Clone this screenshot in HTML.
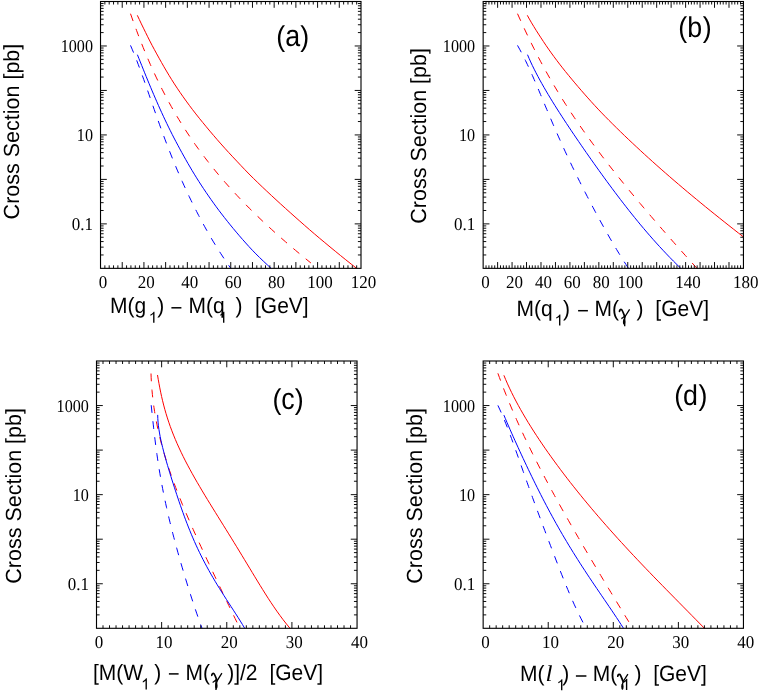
<!DOCTYPE html>
<html><head><meta charset="utf-8"><title>Cross sections</title>
<style>html,body{margin:0;padding:0;background:#fff}svg{display:block;will-change:transform}text{text-rendering:geometricPrecision}.t{font-family:"Liberation Serif",serif;font-size:17px;fill:#000}.s{font-family:"Liberation Sans",sans-serif;fill:#000}.g{font-family:"Liberation Serif",serif;fill:#000}</style></head><body>
<svg width="761" height="692" viewBox="0 0 761 692">
<rect width="761" height="692" fill="#fff"/>
<path d="M137.3 15.3L139.35 19.59L141.39 23.88L143.47 28.17L145.58 32.46L147.7 36.74L149.85 41.03L152.09 45.32L154.4 49.61L156.73 53.9L159.1 58.19L161.5 62.48L163.95 66.77L166.46 71.06L169.02 75.35L171.66 79.63L174.39 83.92L177.21 88.21L180.13 92.5L183.12 96.79L186.2 101.08L189.34 105.37L192.57 109.66L195.89 113.95L199.29 118.24L202.77 122.52L206.31 126.81L209.88 131.1L213.52 135.39L217.22 139.68L221 143.97L224.84 148.26L228.75 152.55L232.73 156.84L236.77 161.13L240.81 165.41L244.88 169.7L249.03 173.99L253.33 178.28L257.75 182.57L262.24 186.86L266.77 191.15L271.36 195.44L276 199.73L280.68 204.02L285.41 208.3L290.18 212.59L294.99 216.88L299.83 221.17L304.71 225.46L309.63 229.75L314.63 234.04L319.7 238.33L324.83 242.62L330 246.91L335.22 251.19L340.46 255.48L345.77 259.77L351.16 264.06L356.6 268.35" stroke="#ff0000" stroke-width="1.0" fill="none"/>
<path d="M130.5 13.7L131.99 17.93L133.5 22.15L135.04 26.38L136.61 30.6L138.2 34.83L139.83 39.05L141.49 43.28L143.18 47.5L144.91 51.73L146.67 55.95L148.48 60.18L150.32 64.41L152.21 68.63L154.13 72.86L156.11 77.08L158.13 81.31L160.2 85.53L162.33 89.76L164.5 93.98L166.73 98.21L169.02 102.43L171.36 106.66L173.77 110.88L176.24 115.11L178.77 119.34L181.37 123.56L184.03 127.79L186.76 132.01L189.57 136.24L192.44 140.46L195.39 144.69L198.42 148.91L201.52 153.14L204.69 157.36L207.95 161.59L211.28 165.82L214.7 170.04L218.2 174.27L221.78 178.49L225.44 182.72L229.19 186.94L233.02 191.17L236.94 195.39L240.94 199.62L245.03 203.84L249.2 208.07L253.46 212.29L257.8 216.52L262.22 220.75L266.73 224.97L271.33 229.2L276 233.42L280.75 237.65L285.59 241.87L290.5 246.1L295.49 250.32L300.56 254.55L305.69 258.77L310.9 263" stroke="#ff0000" stroke-width="1.0" fill="none" stroke-dasharray="7.8 8.3"/>
<path d="M130.5 45.4L132.13 49.18L133.7 52.96L135.23 56.74L136.72 60.52L138.17 64.29L139.59 68.07L140.99 71.85L142.36 75.63L143.71 79.41L145.05 83.19L146.38 86.97L147.69 90.75L149.01 94.52L150.31 98.3L151.62 102.08L152.94 105.86L154.25 109.64L155.58 113.42L156.91 117.2L158.25 120.98L159.61 124.76L160.97 128.53L162.36 132.31L163.76 136.09L165.18 139.87L166.61 143.65L168.07 147.43L169.55 151.21L171.05 154.99L172.57 158.76L174.11 162.54L175.68 166.32L177.28 170.1L178.9 173.88L180.54 177.66L182.22 181.44L183.92 185.22L185.65 188.99L187.41 192.77L189.2 196.55L191.02 200.33L192.88 204.11L194.77 207.89L196.69 211.67L198.65 215.45L200.64 219.23L202.68 223L204.75 226.78L206.87 230.56L209.03 234.34L211.23 238.12L213.48 241.9L215.79 245.68L218.14 249.46L220.55 253.23L223.02 257.01L225.55 260.79L228.14 264.57L230.8 268.35" stroke="#0000ff" stroke-width="1.0" fill="none" stroke-dasharray="7.8 8.3"/>
<path d="M137.4 54.7L138.85 58.32L140.3 61.94L141.75 65.56L143.21 69.18L144.67 72.81L146.14 76.43L147.63 80.05L149.12 83.67L150.63 87.29L152.15 90.91L153.69 94.53L155.25 98.15L156.83 101.78L158.43 105.4L160.05 109.02L161.7 112.64L163.37 116.26L165.07 119.88L166.8 123.5L168.55 127.12L170.35 130.74L172.17 134.37L174.03 137.99L175.93 141.61L177.86 145.23L179.81 148.85L181.78 152.47L183.79 156.09L185.82 159.71L187.89 163.34L190 166.96L192.14 170.58L194.33 174.2L196.57 177.82L198.85 181.44L201.18 185.06L203.57 188.68L206.01 192.31L208.5 195.93L211.02 199.55L213.6 203.17L216.23 206.79L218.92 210.41L221.68 214.03L224.49 217.65L227.36 221.27L230.28 224.9L233.25 228.52L236.28 232.14L239.37 235.76L242.51 239.38L245.72 243L248.99 246.62L252.36 250.24L255.89 253.87L259.56 257.49L263.33 261.11L267.19 264.73L271.1 268.35" stroke="#0000ff" stroke-width="1.0" fill="none"/>
<path d="M104.86 268.35v-3M104.86 1.5v3M109.2 268.35v-3M109.2 1.5v3M113.54 268.35v-3M113.54 1.5v3M117.89 268.35v-3M117.89 1.5v3M122.23 268.35v-6.3M122.23 1.5v6.3M126.57 268.35v-3M126.57 1.5v3M130.91 268.35v-3M130.91 1.5v3M135.25 268.35v-3M135.25 1.5v3M139.59 268.35v-3M139.59 1.5v3M143.93 268.35v-6.3M143.93 1.5v6.3M148.27 268.35v-3M148.27 1.5v3M152.62 268.35v-3M152.62 1.5v3M156.96 268.35v-3M156.96 1.5v3M161.3 268.35v-3M161.3 1.5v3M165.64 268.35v-6.3M165.64 1.5v6.3M169.98 268.35v-3M169.98 1.5v3M174.32 268.35v-3M174.32 1.5v3M178.66 268.35v-3M178.66 1.5v3M183.01 268.35v-3M183.01 1.5v3M187.35 268.35v-6.3M187.35 1.5v6.3M191.69 268.35v-3M191.69 1.5v3M196.03 268.35v-3M196.03 1.5v3M200.37 268.35v-3M200.37 1.5v3M204.71 268.35v-3M204.71 1.5v3M209.05 268.35v-6.3M209.05 1.5v6.3M213.39 268.35v-3M213.39 1.5v3M217.74 268.35v-3M217.74 1.5v3M222.08 268.35v-3M222.08 1.5v3M226.42 268.35v-3M226.42 1.5v3M230.76 268.35v-6.3M230.76 1.5v6.3M235.1 268.35v-3M235.1 1.5v3M239.44 268.35v-3M239.44 1.5v3M243.78 268.35v-3M243.78 1.5v3M248.13 268.35v-3M248.13 1.5v3M252.47 268.35v-6.3M252.47 1.5v6.3M256.81 268.35v-3M256.81 1.5v3M261.15 268.35v-3M261.15 1.5v3M265.49 268.35v-3M265.49 1.5v3M269.83 268.35v-3M269.83 1.5v3M274.17 268.35v-6.3M274.17 1.5v6.3M278.51 268.35v-3M278.51 1.5v3M282.86 268.35v-3M282.86 1.5v3M287.2 268.35v-3M287.2 1.5v3M291.54 268.35v-3M291.54 1.5v3M295.88 268.35v-6.3M295.88 1.5v6.3M300.22 268.35v-3M300.22 1.5v3M304.56 268.35v-3M304.56 1.5v3M308.9 268.35v-3M308.9 1.5v3M313.25 268.35v-3M313.25 1.5v3M317.59 268.35v-6.3M317.59 1.5v6.3M321.93 268.35v-3M321.93 1.5v3M326.27 268.35v-3M326.27 1.5v3M330.61 268.35v-3M330.61 1.5v3M334.95 268.35v-3M334.95 1.5v3M339.29 268.35v-6.3M339.29 1.5v6.3M343.63 268.35v-3M343.63 1.5v3M347.98 268.35v-3M347.98 1.5v3M352.32 268.35v-3M352.32 1.5v3M356.66 268.35v-3M356.66 1.5v3M100.52 254.96h3.1M361 254.96h-3.1M100.52 247.13h3.1M361 247.13h-3.1M100.52 241.57h3.1M361 241.57h-3.1M100.52 237.26h3.1M361 237.26h-3.1M100.52 233.74h3.1M361 233.74h-3.1M100.52 230.76h3.1M361 230.76h-3.1M100.52 228.19h3.1M361 228.19h-3.1M100.52 225.91h3.1M361 225.91h-3.1M100.52 223.88h6.3M361 223.88h-6.3M100.52 210.49h3.1M361 210.49h-3.1M100.52 202.66h3.1M361 202.66h-3.1M100.52 197.1h3.1M361 197.1h-3.1M100.52 192.79h3.1M361 192.79h-3.1M100.52 189.27h3.1M361 189.27h-3.1M100.52 186.29h3.1M361 186.29h-3.1M100.52 183.71h3.1M361 183.71h-3.1M100.52 181.44h3.1M361 181.44h-3.1M100.52 179.4h6.3M361 179.4h-6.3M100.52 166.01h3.1M361 166.01h-3.1M100.52 158.18h3.1M361 158.18h-3.1M100.52 152.62h3.1M361 152.62h-3.1M100.52 148.31h3.1M361 148.31h-3.1M100.52 144.79h3.1M361 144.79h-3.1M100.52 141.81h3.1M361 141.81h-3.1M100.52 139.24h3.1M361 139.24h-3.1M100.52 136.96h3.1M361 136.96h-3.1M100.52 134.93h6.3M361 134.93h-6.3M100.52 121.54h3.1M361 121.54h-3.1M100.52 113.71h3.1M361 113.71h-3.1M100.52 108.15h3.1M361 108.15h-3.1M100.52 103.84h3.1M361 103.84h-3.1M100.52 100.32h3.1M361 100.32h-3.1M100.52 97.34h3.1M361 97.34h-3.1M100.52 94.76h3.1M361 94.76h-3.1M100.52 92.49h3.1M361 92.49h-3.1M100.52 90.45h6.3M361 90.45h-6.3M100.52 77.06h3.1M361 77.06h-3.1M100.52 69.23h3.1M361 69.23h-3.1M100.52 63.67h3.1M361 63.67h-3.1M100.52 59.36h3.1M361 59.36h-3.1M100.52 55.84h3.1M361 55.84h-3.1M100.52 52.86h3.1M361 52.86h-3.1M100.52 50.29h3.1M361 50.29h-3.1M100.52 48.01h3.1M361 48.01h-3.1M100.52 45.98h6.3M361 45.98h-6.3M100.52 32.59h3.1M361 32.59h-3.1M100.52 24.76h3.1M361 24.76h-3.1M100.52 19.2h3.1M361 19.2h-3.1M100.52 14.89h3.1M361 14.89h-3.1M100.52 11.37h3.1M361 11.37h-3.1M100.52 8.39h3.1M361 8.39h-3.1M100.52 5.81h3.1M361 5.81h-3.1M100.52 3.54h3.1M361 3.54h-3.1" stroke="#000000" stroke-width="0.95" fill="none"/>
<rect x="100.52" y="1.5" width="260.48" height="266.85" fill="none" stroke="#000000" stroke-width="1.12"/>
<text transform="translate(102.92 287.95) scale(1 1.06)" class="t" text-anchor="middle">0</text>
<text transform="translate(146.33 287.95) scale(1 1.06)" class="t" text-anchor="middle">20</text>
<text transform="translate(189.75 287.95) scale(1 1.06)" class="t" text-anchor="middle">40</text>
<text transform="translate(233.16 287.95) scale(1 1.06)" class="t" text-anchor="middle">60</text>
<text transform="translate(276.57 287.95) scale(1 1.06)" class="t" text-anchor="middle">80</text>
<text transform="translate(319.99 287.95) scale(1 1.06)" class="t" text-anchor="middle">100</text>
<text transform="translate(363.4 287.95) scale(1 1.06)" class="t" text-anchor="middle">120</text>
<text transform="translate(93.02 230.28) scale(1 1.06)" class="t" text-anchor="end">0.1</text>
<text transform="translate(93.02 141.33) scale(0.95 1.06)" class="t" text-anchor="end">10</text>
<text transform="translate(93.02 52.38) scale(0.95 1.06)" class="t" text-anchor="end">1000</text>
<path d="M527.3 15.3L529.37 19.05L531.54 22.81L533.8 26.56L536.14 30.32L538.53 34.07L540.97 37.83L543.44 41.58L545.95 45.33L548.54 49.09L551.2 52.84L553.93 56.6L556.72 60.35L559.59 64.11L562.52 67.86L565.51 71.61L568.57 75.37L571.68 79.12L574.82 82.88L578.01 86.63L581.24 90.38L584.51 94.14L587.83 97.89L591.21 101.65L594.64 105.4L598.14 109.16L601.7 112.91L605.33 116.66L609.04 120.42L612.81 124.17L616.61 127.93L620.46 131.68L624.35 135.44L628.28 139.19L632.25 142.94L636.27 146.7L640.31 150.45L644.4 154.21L648.53 157.96L652.7 161.72L656.9 165.47L661.14 169.22L665.42 172.98L669.73 176.73L674.08 180.49L678.47 184.24L682.89 187.99L687.34 191.75L691.84 195.5L696.36 199.26L700.92 203.01L705.51 206.77L710.13 210.52L714.79 214.27L719.47 218.03L724.18 221.78L728.92 225.54L733.69 229.29L738.48 233.05L743.3 236.8" stroke="#ff0000" stroke-width="1.0" fill="none"/>
<path d="M517.5 13.7L519.45 18.02L521.42 22.33L523.4 26.65L525.42 30.96L527.46 35.28L529.53 39.6L531.64 43.91L533.79 48.23L535.97 52.54L538.19 56.86L540.46 61.18L542.76 65.49L545.12 69.81L547.52 74.13L549.96 78.44L552.46 82.76L555 87.07L557.59 91.39L560.23 95.71L562.92 100.02L565.65 104.34L568.44 108.65L571.27 112.97L574.15 117.29L577.08 121.6L580.05 125.92L583.07 130.23L586.13 134.55L589.24 138.87L592.38 143.18L595.57 147.5L598.8 151.82L602.07 156.13L605.38 160.45L608.72 164.76L612.1 169.08L615.51 173.4L618.96 177.71L622.44 182.03L625.94 186.34L629.48 190.66L633.04 194.98L636.63 199.29L640.25 203.61L643.89 207.92L647.55 212.24L651.24 216.56L654.94 220.87L658.67 225.19L662.42 229.51L666.19 233.82L669.97 238.14L673.78 242.45L677.6 246.77L681.44 251.09L685.3 255.4L689.18 259.72L693.08 264.03L697 268.35" stroke="#ff0000" stroke-width="1.0" fill="none" stroke-dasharray="7.8 8.3"/>
<path d="M517.5 45.4L519.61 49.18L521.63 52.96L523.58 56.74L525.46 60.52L527.28 64.29L529.05 68.07L530.77 71.85L532.46 75.63L534.12 79.41L535.75 83.19L537.36 86.97L538.96 90.75L540.55 94.52L542.13 98.3L543.71 102.08L545.28 105.86L546.87 109.64L548.46 113.42L550.05 117.2L551.66 120.98L553.28 124.76L554.92 128.53L556.57 132.31L558.23 136.09L559.92 139.87L561.62 143.65L563.33 147.43L565.07 151.21L566.82 154.99L568.6 158.76L570.39 162.54L572.2 166.32L574.03 170.1L575.87 173.88L577.73 177.66L579.61 181.44L581.51 185.22L583.43 188.99L585.36 192.77L587.3 196.55L589.27 200.33L591.25 204.11L593.25 207.89L595.26 211.67L597.29 215.45L599.34 219.23L601.42 223L603.51 226.78L605.62 230.56L607.76 234.34L609.92 238.12L612.12 241.9L614.34 245.68L616.59 249.46L618.89 253.23L621.22 257.01L623.6 260.79L626.02 264.57L628.5 268.35" stroke="#0000ff" stroke-width="1.0" fill="none" stroke-dasharray="7.8 8.3"/>
<path d="M527.5 54.7L529.05 58.32L530.68 61.94L532.39 65.56L534.16 69.18L536.01 72.81L537.91 76.43L539.87 80.05L541.88 83.67L543.94 87.29L546.05 90.91L548.19 94.53L550.38 98.15L552.6 101.78L554.85 105.4L557.14 109.02L559.45 112.64L561.79 116.26L564.15 119.88L566.53 123.5L568.93 127.12L571.35 130.74L573.79 134.37L576.25 137.99L578.72 141.61L581.21 145.23L583.71 148.85L586.23 152.47L588.76 156.09L591.31 159.71L593.87 163.34L596.45 166.96L599.04 170.58L601.65 174.2L604.28 177.82L606.92 181.44L609.59 185.06L612.27 188.68L614.98 192.31L617.71 195.93L620.47 199.55L623.26 203.17L626.07 206.79L628.92 210.41L631.79 214.03L634.71 217.65L637.66 221.27L640.65 224.9L643.69 228.52L646.77 232.14L649.91 235.76L653.09 239.38L656.33 243L659.62 246.62L662.98 250.24L666.4 253.87L669.89 257.49L673.45 261.11L677.09 264.73L680.8 268.35" stroke="#0000ff" stroke-width="1.0" fill="none"/>
<path d="M486.04 268.35v-3M486.04 1.5v3M488.93 268.35v-3M488.93 1.5v3M491.83 268.35v-3M491.83 1.5v3M494.72 268.35v-3M494.72 1.5v3M497.61 268.35v-6.3M497.61 1.5v6.3M500.5 268.35v-3M500.5 1.5v3M503.4 268.35v-3M503.4 1.5v3M506.29 268.35v-3M506.29 1.5v3M509.18 268.35v-3M509.18 1.5v3M512.07 268.35v-6.3M512.07 1.5v6.3M514.96 268.35v-3M514.96 1.5v3M517.86 268.35v-3M517.86 1.5v3M520.75 268.35v-3M520.75 1.5v3M523.64 268.35v-3M523.64 1.5v3M526.53 268.35v-6.3M526.53 1.5v6.3M529.43 268.35v-3M529.43 1.5v3M532.32 268.35v-3M532.32 1.5v3M535.21 268.35v-3M535.21 1.5v3M538.1 268.35v-3M538.1 1.5v3M540.99 268.35v-6.3M540.99 1.5v6.3M543.89 268.35v-3M543.89 1.5v3M546.78 268.35v-3M546.78 1.5v3M549.67 268.35v-3M549.67 1.5v3M552.56 268.35v-3M552.56 1.5v3M555.46 268.35v-6.3M555.46 1.5v6.3M558.35 268.35v-3M558.35 1.5v3M561.24 268.35v-3M561.24 1.5v3M564.13 268.35v-3M564.13 1.5v3M567.02 268.35v-3M567.02 1.5v3M569.92 268.35v-6.3M569.92 1.5v6.3M572.81 268.35v-3M572.81 1.5v3M575.7 268.35v-3M575.7 1.5v3M578.59 268.35v-3M578.59 1.5v3M581.49 268.35v-3M581.49 1.5v3M584.38 268.35v-6.3M584.38 1.5v6.3M587.27 268.35v-3M587.27 1.5v3M590.16 268.35v-3M590.16 1.5v3M593.05 268.35v-3M593.05 1.5v3M595.95 268.35v-3M595.95 1.5v3M598.84 268.35v-6.3M598.84 1.5v6.3M601.73 268.35v-3M601.73 1.5v3M604.62 268.35v-3M604.62 1.5v3M607.52 268.35v-3M607.52 1.5v3M610.41 268.35v-3M610.41 1.5v3M613.3 268.35v-6.3M613.3 1.5v6.3M616.19 268.35v-3M616.19 1.5v3M619.08 268.35v-3M619.08 1.5v3M621.98 268.35v-3M621.98 1.5v3M624.87 268.35v-3M624.87 1.5v3M627.76 268.35v-6.3M627.76 1.5v6.3M630.65 268.35v-3M630.65 1.5v3M633.55 268.35v-3M633.55 1.5v3M636.44 268.35v-3M636.44 1.5v3M639.33 268.35v-3M639.33 1.5v3M642.22 268.35v-6.3M642.22 1.5v6.3M645.11 268.35v-3M645.11 1.5v3M648.01 268.35v-3M648.01 1.5v3M650.9 268.35v-3M650.9 1.5v3M653.79 268.35v-3M653.79 1.5v3M656.68 268.35v-6.3M656.68 1.5v6.3M659.58 268.35v-3M659.58 1.5v3M662.47 268.35v-3M662.47 1.5v3M665.36 268.35v-3M665.36 1.5v3M668.25 268.35v-3M668.25 1.5v3M671.14 268.35v-6.3M671.14 1.5v6.3M674.04 268.35v-3M674.04 1.5v3M676.93 268.35v-3M676.93 1.5v3M679.82 268.35v-3M679.82 1.5v3M682.71 268.35v-3M682.71 1.5v3M685.61 268.35v-6.3M685.61 1.5v6.3M688.5 268.35v-3M688.5 1.5v3M691.39 268.35v-3M691.39 1.5v3M694.28 268.35v-3M694.28 1.5v3M697.17 268.35v-3M697.17 1.5v3M700.07 268.35v-6.3M700.07 1.5v6.3M702.96 268.35v-3M702.96 1.5v3M705.85 268.35v-3M705.85 1.5v3M708.74 268.35v-3M708.74 1.5v3M711.64 268.35v-3M711.64 1.5v3M714.53 268.35v-6.3M714.53 1.5v6.3M717.42 268.35v-3M717.42 1.5v3M720.31 268.35v-3M720.31 1.5v3M723.2 268.35v-3M723.2 1.5v3M726.1 268.35v-3M726.1 1.5v3M728.99 268.35v-6.3M728.99 1.5v6.3M731.88 268.35v-3M731.88 1.5v3M734.77 268.35v-3M734.77 1.5v3M737.67 268.35v-3M737.67 1.5v3M740.56 268.35v-3M740.56 1.5v3M483.15 254.96h3.1M743.45 254.96h-3.1M483.15 247.13h3.1M743.45 247.13h-3.1M483.15 241.57h3.1M743.45 241.57h-3.1M483.15 237.26h3.1M743.45 237.26h-3.1M483.15 233.74h3.1M743.45 233.74h-3.1M483.15 230.76h3.1M743.45 230.76h-3.1M483.15 228.19h3.1M743.45 228.19h-3.1M483.15 225.91h3.1M743.45 225.91h-3.1M483.15 223.88h6.3M743.45 223.88h-6.3M483.15 210.49h3.1M743.45 210.49h-3.1M483.15 202.66h3.1M743.45 202.66h-3.1M483.15 197.1h3.1M743.45 197.1h-3.1M483.15 192.79h3.1M743.45 192.79h-3.1M483.15 189.27h3.1M743.45 189.27h-3.1M483.15 186.29h3.1M743.45 186.29h-3.1M483.15 183.71h3.1M743.45 183.71h-3.1M483.15 181.44h3.1M743.45 181.44h-3.1M483.15 179.4h6.3M743.45 179.4h-6.3M483.15 166.01h3.1M743.45 166.01h-3.1M483.15 158.18h3.1M743.45 158.18h-3.1M483.15 152.62h3.1M743.45 152.62h-3.1M483.15 148.31h3.1M743.45 148.31h-3.1M483.15 144.79h3.1M743.45 144.79h-3.1M483.15 141.81h3.1M743.45 141.81h-3.1M483.15 139.24h3.1M743.45 139.24h-3.1M483.15 136.96h3.1M743.45 136.96h-3.1M483.15 134.93h6.3M743.45 134.93h-6.3M483.15 121.54h3.1M743.45 121.54h-3.1M483.15 113.71h3.1M743.45 113.71h-3.1M483.15 108.15h3.1M743.45 108.15h-3.1M483.15 103.84h3.1M743.45 103.84h-3.1M483.15 100.32h3.1M743.45 100.32h-3.1M483.15 97.34h3.1M743.45 97.34h-3.1M483.15 94.76h3.1M743.45 94.76h-3.1M483.15 92.49h3.1M743.45 92.49h-3.1M483.15 90.45h6.3M743.45 90.45h-6.3M483.15 77.06h3.1M743.45 77.06h-3.1M483.15 69.23h3.1M743.45 69.23h-3.1M483.15 63.67h3.1M743.45 63.67h-3.1M483.15 59.36h3.1M743.45 59.36h-3.1M483.15 55.84h3.1M743.45 55.84h-3.1M483.15 52.86h3.1M743.45 52.86h-3.1M483.15 50.29h3.1M743.45 50.29h-3.1M483.15 48.01h3.1M743.45 48.01h-3.1M483.15 45.98h6.3M743.45 45.98h-6.3M483.15 32.59h3.1M743.45 32.59h-3.1M483.15 24.76h3.1M743.45 24.76h-3.1M483.15 19.2h3.1M743.45 19.2h-3.1M483.15 14.89h3.1M743.45 14.89h-3.1M483.15 11.37h3.1M743.45 11.37h-3.1M483.15 8.39h3.1M743.45 8.39h-3.1M483.15 5.81h3.1M743.45 5.81h-3.1M483.15 3.54h3.1M743.45 3.54h-3.1" stroke="#000000" stroke-width="0.95" fill="none"/>
<rect x="483.15" y="1.5" width="260.3" height="266.85" fill="none" stroke="#000000" stroke-width="1.12"/>
<text transform="translate(485.55 287.95) scale(1 1.06)" class="t" text-anchor="middle">0</text>
<text transform="translate(514.47 287.95) scale(1 1.06)" class="t" text-anchor="middle">20</text>
<text transform="translate(543.39 287.95) scale(1 1.06)" class="t" text-anchor="middle">40</text>
<text transform="translate(572.32 287.95) scale(1 1.06)" class="t" text-anchor="middle">60</text>
<text transform="translate(601.24 287.95) scale(1 1.06)" class="t" text-anchor="middle">80</text>
<text transform="translate(630.16 287.95) scale(1 1.06)" class="t" text-anchor="middle">100</text>
<text transform="translate(688.01 287.95) scale(1 1.06)" class="t" text-anchor="middle">140</text>
<text transform="translate(745.85 287.95) scale(1 1.06)" class="t" text-anchor="middle">180</text>
<text transform="translate(475.15 230.28) scale(1 1.06)" class="t" text-anchor="end">0.1</text>
<text transform="translate(475.15 141.33) scale(0.95 1.06)" class="t" text-anchor="end">10</text>
<text transform="translate(475.15 52.38) scale(0.95 1.06)" class="t" text-anchor="end">1000</text>
<path d="M157.5 375L158.23 379.29L158.99 383.59L159.8 387.88L160.67 392.17L161.59 396.47L162.59 400.76L163.66 405.05L164.81 409.35L166.04 413.64L167.37 417.93L168.78 422.23L170.28 426.52L171.87 430.81L173.55 435.11L175.32 439.4L177.17 443.69L179.11 447.98L181.13 452.28L183.23 456.57L185.39 460.86L187.63 465.16L189.94 469.45L192.3 473.74L194.71 478.04L197.18 482.33L199.69 486.62L202.23 490.92L204.81 495.21L207.42 499.5L210.05 503.8L212.7 508.09L215.36 512.38L218.03 516.68L220.7 520.97L223.37 525.26L226.04 529.56L228.7 533.85L231.36 538.14L234 542.44L236.63 546.73L239.26 551.02L241.87 555.32L244.47 559.61L247.06 563.9L249.66 568.19L252.25 572.49L254.84 576.78L257.45 581.07L260.08 585.37L262.74 589.66L265.43 593.95L268.17 598.25L270.98 602.54L273.86 606.83L276.83 611.13L279.91 615.42L283.12 619.71L286.47 624.01L290 628.3" stroke="#ff0000" stroke-width="1.0" fill="none"/>
<path d="M151 373.5L151.17 377.72L151.39 381.94L151.67 386.17L152 390.39L152.4 394.61L152.85 398.83L153.37 403.05L153.95 407.28L154.58 411.5L155.28 415.72L156.04 419.94L156.86 424.16L157.74 428.39L158.67 432.61L159.67 436.83L160.72 441.05L161.83 445.27L162.99 449.5L164.21 453.72L165.48 457.94L166.8 462.16L168.17 466.38L169.59 470.61L171.05 474.83L172.55 479.05L174.1 483.27L175.68 487.49L177.31 491.72L178.97 495.94L180.66 500.16L182.39 504.38L184.14 508.61L185.92 512.83L187.73 517.05L189.57 521.27L191.42 525.49L193.29 529.72L195.19 533.94L197.1 538.16L199.02 542.38L200.96 546.6L202.91 550.83L204.87 555.05L206.84 559.27L208.82 563.49L210.8 567.71L212.79 571.94L214.79 576.16L216.79 580.38L218.8 584.6L220.81 588.82L222.83 593.05L224.85 597.27L226.87 601.49L228.9 605.71L230.94 609.93L232.98 614.16L235.04 618.38L237.1 622.6" stroke="#ff0000" stroke-width="1.0" fill="none" stroke-dasharray="7.8 8.3"/>
<path d="M151.2 405.2L151.6 408.98L152.01 412.76L152.41 416.54L152.81 420.33L153.22 424.11L153.64 427.89L154.07 431.67L154.5 435.45L154.96 439.23L155.42 443.01L155.91 446.79L156.41 450.58L156.93 454.36L157.47 458.14L158.03 461.92L158.62 465.7L159.22 469.48L159.85 473.26L160.5 477.05L161.17 480.83L161.87 484.61L162.58 488.39L163.32 492.17L164.09 495.95L164.87 499.73L165.68 503.52L166.51 507.3L167.36 511.08L168.23 514.86L169.12 518.64L170.03 522.42L170.96 526.2L171.91 529.98L172.87 533.77L173.86 537.55L174.86 541.33L175.87 545.11L176.91 548.89L177.95 552.67L179.02 556.45L180.09 560.24L181.18 564.02L182.29 567.8L183.41 571.58L184.54 575.36L185.69 579.14L186.85 582.92L188.02 586.71L189.21 590.49L190.41 594.27L191.62 598.05L192.86 601.83L194.1 605.61L195.37 609.39L196.65 613.17L197.96 616.96L199.28 620.74L200.63 624.52L202 628.3" stroke="#0000ff" stroke-width="1.0" fill="none" stroke-dasharray="7.8 8.3"/>
<path d="M157.7 414.9L157.8 418.52L158.05 422.13L158.42 425.75L158.91 429.37L159.5 432.98L160.17 436.6L160.92 440.22L161.74 443.84L162.61 447.45L163.54 451.07L164.5 454.69L165.5 458.3L166.53 461.92L167.59 465.54L168.67 469.15L169.77 472.77L170.88 476.39L172.01 480.01L173.16 483.62L174.32 487.24L175.5 490.86L176.69 494.47L177.9 498.09L179.12 501.71L180.37 505.32L181.64 508.94L182.93 512.56L184.24 516.17L185.59 519.79L186.97 523.41L188.38 527.03L189.83 530.64L191.32 534.26L192.86 537.88L194.43 541.49L196.06 545.11L197.73 548.73L199.45 552.34L201.23 555.96L203.06 559.58L204.94 563.19L206.87 566.81L208.86 570.43L210.9 574.05L212.99 577.66L215.12 581.28L217.31 584.9L219.53 588.51L221.79 592.13L224.08 595.75L226.39 599.36L228.73 602.98L231.07 606.6L233.41 610.22L235.74 613.83L238.05 617.45L240.32 621.07L242.54 624.68L244.7 628.3" stroke="#0000ff" stroke-width="1.0" fill="none"/>
<path d="M103.01 628.3v-3M103.01 361v3M109.53 628.3v-3M109.53 361v3M116.04 628.3v-3M116.04 361v3M122.56 628.3v-3M122.56 361v3M129.07 628.3v-3M129.07 361v3M135.58 628.3v-3M135.58 361v3M142.1 628.3v-3M142.1 361v3M148.61 628.3v-3M148.61 361v3M155.12 628.3v-3M155.12 361v3M161.64 628.3v-6.3M161.64 361v6.3M168.15 628.3v-3M168.15 361v3M174.67 628.3v-3M174.67 361v3M181.18 628.3v-3M181.18 361v3M187.69 628.3v-3M187.69 361v3M194.21 628.3v-3M194.21 361v3M200.72 628.3v-3M200.72 361v3M207.23 628.3v-3M207.23 361v3M213.75 628.3v-3M213.75 361v3M220.26 628.3v-3M220.26 361v3M226.78 628.3v-6.3M226.78 361v6.3M233.29 628.3v-3M233.29 361v3M239.8 628.3v-3M239.8 361v3M246.32 628.3v-3M246.32 361v3M252.83 628.3v-3M252.83 361v3M259.34 628.3v-3M259.34 361v3M265.86 628.3v-3M265.86 361v3M272.37 628.3v-3M272.37 361v3M278.88 628.3v-3M278.88 361v3M285.4 628.3v-3M285.4 361v3M291.91 628.3v-6.3M291.91 361v6.3M298.43 628.3v-3M298.43 361v3M304.94 628.3v-3M304.94 361v3M311.45 628.3v-3M311.45 361v3M317.97 628.3v-3M317.97 361v3M324.48 628.3v-3M324.48 361v3M331 628.3v-3M331 361v3M337.51 628.3v-3M337.51 361v3M344.02 628.3v-3M344.02 361v3M350.54 628.3v-3M350.54 361v3M96.5 614.89h3.1M357.05 614.89h-3.1M96.5 607.04h3.1M357.05 607.04h-3.1M96.5 601.48h3.1M357.05 601.48h-3.1M96.5 597.16h3.1M357.05 597.16h-3.1M96.5 593.63h3.1M357.05 593.63h-3.1M96.5 590.65h3.1M357.05 590.65h-3.1M96.5 588.07h3.1M357.05 588.07h-3.1M96.5 585.79h3.1M357.05 585.79h-3.1M96.5 583.75h6.3M357.05 583.75h-6.3M96.5 570.34h3.1M357.05 570.34h-3.1M96.5 562.49h3.1M357.05 562.49h-3.1M96.5 556.93h3.1M357.05 556.93h-3.1M96.5 552.61h3.1M357.05 552.61h-3.1M96.5 549.08h3.1M357.05 549.08h-3.1M96.5 546.1h3.1M357.05 546.1h-3.1M96.5 543.52h3.1M357.05 543.52h-3.1M96.5 541.24h3.1M357.05 541.24h-3.1M96.5 539.2h6.3M357.05 539.2h-6.3M96.5 525.79h3.1M357.05 525.79h-3.1M96.5 517.94h3.1M357.05 517.94h-3.1M96.5 512.38h3.1M357.05 512.38h-3.1M96.5 508.06h3.1M357.05 508.06h-3.1M96.5 504.53h3.1M357.05 504.53h-3.1M96.5 501.55h3.1M357.05 501.55h-3.1M96.5 498.97h3.1M357.05 498.97h-3.1M96.5 496.69h3.1M357.05 496.69h-3.1M96.5 494.65h6.3M357.05 494.65h-6.3M96.5 481.24h3.1M357.05 481.24h-3.1M96.5 473.39h3.1M357.05 473.39h-3.1M96.5 467.83h3.1M357.05 467.83h-3.1M96.5 463.51h3.1M357.05 463.51h-3.1M96.5 459.98h3.1M357.05 459.98h-3.1M96.5 457h3.1M357.05 457h-3.1M96.5 454.42h3.1M357.05 454.42h-3.1M96.5 452.14h3.1M357.05 452.14h-3.1M96.5 450.1h6.3M357.05 450.1h-6.3M96.5 436.69h3.1M357.05 436.69h-3.1M96.5 428.84h3.1M357.05 428.84h-3.1M96.5 423.28h3.1M357.05 423.28h-3.1M96.5 418.96h3.1M357.05 418.96h-3.1M96.5 415.43h3.1M357.05 415.43h-3.1M96.5 412.45h3.1M357.05 412.45h-3.1M96.5 409.87h3.1M357.05 409.87h-3.1M96.5 407.59h3.1M357.05 407.59h-3.1M96.5 405.55h6.3M357.05 405.55h-6.3M96.5 392.14h3.1M357.05 392.14h-3.1M96.5 384.29h3.1M357.05 384.29h-3.1M96.5 378.73h3.1M357.05 378.73h-3.1M96.5 374.41h3.1M357.05 374.41h-3.1M96.5 370.88h3.1M357.05 370.88h-3.1M96.5 367.9h3.1M357.05 367.9h-3.1M96.5 365.32h3.1M357.05 365.32h-3.1M96.5 363.04h3.1M357.05 363.04h-3.1" stroke="#000000" stroke-width="0.95" fill="none"/>
<rect x="96.5" y="361" width="260.55" height="267.3" fill="none" stroke="#000000" stroke-width="1.12"/>
<text transform="translate(98.9 647.9) scale(1 1.06)" class="t" text-anchor="middle">0</text>
<text transform="translate(164.04 647.9) scale(1 1.06)" class="t" text-anchor="middle">10</text>
<text transform="translate(229.18 647.9) scale(1 1.06)" class="t" text-anchor="middle">20</text>
<text transform="translate(294.31 647.9) scale(1 1.06)" class="t" text-anchor="middle">30</text>
<text transform="translate(359.45 647.9) scale(1 1.06)" class="t" text-anchor="middle">40</text>
<text transform="translate(88.9 590.15) scale(1 1.06)" class="t" text-anchor="end">0.1</text>
<text transform="translate(88.9 501.05) scale(0.95 1.06)" class="t" text-anchor="end">10</text>
<text transform="translate(88.9 411.95) scale(0.95 1.06)" class="t" text-anchor="end">1000</text>
<path d="M503.9 375.3L505.67 379.59L507.54 383.88L509.51 388.16L511.57 392.45L513.71 396.74L515.94 401.03L518.25 405.32L520.63 409.61L523.09 413.89L525.62 418.18L528.21 422.47L530.87 426.76L533.59 431.05L536.36 435.33L539.2 439.62L542.09 443.91L545.03 448.2L548.03 452.49L551.08 456.77L554.18 461.06L557.33 465.35L560.52 469.64L563.76 473.93L567.05 478.22L570.39 482.5L573.77 486.79L577.19 491.08L580.66 495.37L584.17 499.66L587.72 503.94L591.31 508.23L594.95 512.52L598.62 516.81L602.34 521.1L606.1 525.38L609.89 529.67L613.72 533.96L617.59 538.25L621.5 542.54L625.44 546.83L629.42 551.11L633.42 555.4L637.46 559.69L641.53 563.98L645.63 568.27L649.75 572.55L653.89 576.84L658.06 581.13L662.25 585.42L666.45 589.71L670.66 593.99L674.89 598.28L679.12 602.57L683.35 606.86L687.58 611.15L691.81 615.44L696.02 619.72L700.22 624.01L704.4 628.3" stroke="#ff0000" stroke-width="1.0" fill="none"/>
<path d="M497.9 373.3L499.43 377.51L501 381.72L502.6 385.94L504.23 390.15L505.9 394.36L507.59 398.57L509.32 402.78L511.08 406.99L512.88 411.21L514.7 415.42L516.55 419.63L518.44 423.84L520.35 428.05L522.3 432.27L524.27 436.48L526.27 440.69L528.29 444.9L530.34 449.11L532.42 453.33L534.53 457.54L536.65 461.75L538.81 465.96L540.98 470.17L543.18 474.38L545.4 478.6L547.64 482.81L549.9 487.02L552.18 491.23L554.47 495.44L556.79 499.66L559.12 503.87L561.47 508.08L563.83 512.29L566.21 516.5L568.61 520.72L571.01 524.93L573.43 529.14L575.87 533.35L578.31 537.56L580.76 541.77L583.23 545.99L585.7 550.2L588.19 554.41L590.68 558.62L593.18 562.83L595.69 567.05L598.2 571.26L600.72 575.47L603.25 579.68L605.78 583.89L608.32 588.11L610.86 592.32L613.41 596.53L615.96 600.74L618.52 604.95L621.08 609.16L623.65 613.38L626.22 617.59L628.8 621.8" stroke="#ff0000" stroke-width="1.0" fill="none" stroke-dasharray="7.8 8.3"/>
<path d="M497.9 405.4L499.62 409.08L501.28 412.76L502.87 416.44L504.41 420.13L505.9 423.81L507.35 427.49L508.77 431.17L510.16 434.85L511.52 438.53L512.86 442.21L514.19 445.89L515.5 449.58L516.81 453.26L518.11 456.94L519.4 460.62L520.7 464.3L521.99 467.98L523.29 471.66L524.59 475.35L525.9 479.03L527.21 482.71L528.52 486.39L529.85 490.07L531.18 493.75L532.51 497.43L533.85 501.12L535.2 504.8L536.56 508.48L537.92 512.16L539.29 515.84L540.66 519.52L542.03 523.2L543.42 526.88L544.8 530.57L546.19 534.25L547.58 537.93L548.98 541.61L550.38 545.29L551.79 548.97L553.19 552.65L554.61 556.34L556.03 560.02L557.45 563.7L558.88 567.38L560.33 571.06L561.78 574.74L563.24 578.42L564.72 582.11L566.22 585.79L567.74 589.47L569.29 593.15L570.86 596.83L572.47 600.51L574.11 604.19L575.8 607.87L577.53 611.56L579.33 615.24L581.18 618.92L583.1 622.6" stroke="#0000ff" stroke-width="1.0" fill="none" stroke-dasharray="7.8 8.3"/>
<path d="M503.9 415.1L505.42 418.71L506.95 422.33L508.51 425.94L510.08 429.55L511.67 433.17L513.27 436.78L514.89 440.39L516.52 444.01L518.16 447.62L519.82 451.24L521.49 454.85L523.17 458.46L524.86 462.08L526.57 465.69L528.28 469.3L530.02 472.92L531.76 476.53L533.52 480.14L535.3 483.76L537.1 487.37L538.91 490.98L540.74 494.6L542.59 498.21L544.46 501.83L546.35 505.44L548.26 509.05L550.2 512.67L552.16 516.28L554.14 519.89L556.15 523.51L558.19 527.12L560.25 530.73L562.34 534.35L564.46 537.96L566.61 541.57L568.78 545.19L570.99 548.8L573.22 552.42L575.48 556.03L577.76 559.64L580.07 563.26L582.4 566.87L584.76 570.48L587.14 574.1L589.54 577.71L591.96 581.32L594.39 584.94L596.84 588.55L599.3 592.16L601.76 595.78L604.22 599.39L606.69 603.01L609.15 606.62L611.6 610.23L614.03 613.85L616.45 617.46L618.83 621.07L621.19 624.69L623.5 628.3" stroke="#0000ff" stroke-width="1.0" fill="none"/>
<path d="M489.66 628.3v-3M489.66 361v3M496.16 628.3v-3M496.16 361v3M502.67 628.3v-3M502.67 361v3M509.18 628.3v-3M509.18 361v3M515.69 628.3v-3M515.69 361v3M522.19 628.3v-3M522.19 361v3M528.7 628.3v-3M528.7 361v3M535.21 628.3v-3M535.21 361v3M541.72 628.3v-3M541.72 361v3M548.23 628.3v-6.3M548.23 361v6.3M554.73 628.3v-3M554.73 361v3M561.24 628.3v-3M561.24 361v3M567.75 628.3v-3M567.75 361v3M574.25 628.3v-3M574.25 361v3M580.76 628.3v-3M580.76 361v3M587.27 628.3v-3M587.27 361v3M593.78 628.3v-3M593.78 361v3M600.28 628.3v-3M600.28 361v3M606.79 628.3v-3M606.79 361v3M613.3 628.3v-6.3M613.3 361v6.3M619.81 628.3v-3M619.81 361v3M626.32 628.3v-3M626.32 361v3M632.82 628.3v-3M632.82 361v3M639.33 628.3v-3M639.33 361v3M645.84 628.3v-3M645.84 361v3M652.35 628.3v-3M652.35 361v3M658.85 628.3v-3M658.85 361v3M665.36 628.3v-3M665.36 361v3M671.87 628.3v-3M671.87 361v3M678.38 628.3v-6.3M678.38 361v6.3M684.88 628.3v-3M684.88 361v3M691.39 628.3v-3M691.39 361v3M697.9 628.3v-3M697.9 361v3M704.4 628.3v-3M704.4 361v3M710.91 628.3v-3M710.91 361v3M717.42 628.3v-3M717.42 361v3M723.93 628.3v-3M723.93 361v3M730.44 628.3v-3M730.44 361v3M736.94 628.3v-3M736.94 361v3M483.15 614.89h3.1M743.45 614.89h-3.1M483.15 607.04h3.1M743.45 607.04h-3.1M483.15 601.48h3.1M743.45 601.48h-3.1M483.15 597.16h3.1M743.45 597.16h-3.1M483.15 593.63h3.1M743.45 593.63h-3.1M483.15 590.65h3.1M743.45 590.65h-3.1M483.15 588.07h3.1M743.45 588.07h-3.1M483.15 585.79h3.1M743.45 585.79h-3.1M483.15 583.75h6.3M743.45 583.75h-6.3M483.15 570.34h3.1M743.45 570.34h-3.1M483.15 562.49h3.1M743.45 562.49h-3.1M483.15 556.93h3.1M743.45 556.93h-3.1M483.15 552.61h3.1M743.45 552.61h-3.1M483.15 549.08h3.1M743.45 549.08h-3.1M483.15 546.1h3.1M743.45 546.1h-3.1M483.15 543.52h3.1M743.45 543.52h-3.1M483.15 541.24h3.1M743.45 541.24h-3.1M483.15 539.2h6.3M743.45 539.2h-6.3M483.15 525.79h3.1M743.45 525.79h-3.1M483.15 517.94h3.1M743.45 517.94h-3.1M483.15 512.38h3.1M743.45 512.38h-3.1M483.15 508.06h3.1M743.45 508.06h-3.1M483.15 504.53h3.1M743.45 504.53h-3.1M483.15 501.55h3.1M743.45 501.55h-3.1M483.15 498.97h3.1M743.45 498.97h-3.1M483.15 496.69h3.1M743.45 496.69h-3.1M483.15 494.65h6.3M743.45 494.65h-6.3M483.15 481.24h3.1M743.45 481.24h-3.1M483.15 473.39h3.1M743.45 473.39h-3.1M483.15 467.83h3.1M743.45 467.83h-3.1M483.15 463.51h3.1M743.45 463.51h-3.1M483.15 459.98h3.1M743.45 459.98h-3.1M483.15 457h3.1M743.45 457h-3.1M483.15 454.42h3.1M743.45 454.42h-3.1M483.15 452.14h3.1M743.45 452.14h-3.1M483.15 450.1h6.3M743.45 450.1h-6.3M483.15 436.69h3.1M743.45 436.69h-3.1M483.15 428.84h3.1M743.45 428.84h-3.1M483.15 423.28h3.1M743.45 423.28h-3.1M483.15 418.96h3.1M743.45 418.96h-3.1M483.15 415.43h3.1M743.45 415.43h-3.1M483.15 412.45h3.1M743.45 412.45h-3.1M483.15 409.87h3.1M743.45 409.87h-3.1M483.15 407.59h3.1M743.45 407.59h-3.1M483.15 405.55h6.3M743.45 405.55h-6.3M483.15 392.14h3.1M743.45 392.14h-3.1M483.15 384.29h3.1M743.45 384.29h-3.1M483.15 378.73h3.1M743.45 378.73h-3.1M483.15 374.41h3.1M743.45 374.41h-3.1M483.15 370.88h3.1M743.45 370.88h-3.1M483.15 367.9h3.1M743.45 367.9h-3.1M483.15 365.32h3.1M743.45 365.32h-3.1M483.15 363.04h3.1M743.45 363.04h-3.1" stroke="#000000" stroke-width="0.95" fill="none"/>
<rect x="483.15" y="361" width="260.3" height="267.3" fill="none" stroke="#000000" stroke-width="1.12"/>
<text transform="translate(485.55 647.9) scale(1 1.06)" class="t" text-anchor="middle">0</text>
<text transform="translate(550.62 647.9) scale(1 1.06)" class="t" text-anchor="middle">10</text>
<text transform="translate(615.7 647.9) scale(1 1.06)" class="t" text-anchor="middle">20</text>
<text transform="translate(680.77 647.9) scale(1 1.06)" class="t" text-anchor="middle">30</text>
<text transform="translate(745.85 647.9) scale(1 1.06)" class="t" text-anchor="middle">40</text>
<text transform="translate(475.15 590.15) scale(1 1.06)" class="t" text-anchor="end">0.1</text>
<text transform="translate(475.15 501.05) scale(0.95 1.06)" class="t" text-anchor="end">10</text>
<text transform="translate(475.15 411.95) scale(0.95 1.06)" class="t" text-anchor="end">1000</text>
<text transform="translate(276.3 45.6) scale(1 1.07)" class="s" font-size="26.8">(</text>
<text transform="translate(285.22 45.8) scale(1 1.13)" class="s" font-size="26.8">a</text>
<text transform="translate(300.23 45.6) scale(1 1.07)" class="s" font-size="26.8">)</text>
<text transform="translate(678.3 37.2) scale(1 1.07)" class="s" font-size="26.8">(</text>
<text transform="translate(687.22 37.4) scale(1 1.07)" class="s" font-size="26.8">b</text>
<text transform="translate(702.63 37.2) scale(1 1.07)" class="s" font-size="26.8">)</text>
<text transform="translate(272.4 409.2) scale(1 1.07)" class="s" font-size="26.8">(</text>
<text transform="translate(281.32 409.4) scale(1 1.13)" class="s" font-size="26.8">c</text>
<text transform="translate(294.82 409.2) scale(1 1.07)" class="s" font-size="26.8">)</text>
<text transform="translate(674.2 405.2) scale(1 1.07)" class="s" font-size="26.8">(</text>
<text transform="translate(683.12 405.4) scale(1 1.07)" class="s" font-size="26.8">d</text>
<text transform="translate(698.53 405.2) scale(1 1.07)" class="s" font-size="26.8">)</text>
<text transform="translate(18.7 219.4) rotate(-90) scale(1 1.02)" class="s" font-size="21.5">Cross Section [pb]</text>
<text transform="translate(426.2 223.7) rotate(-90) scale(1 1.02)" class="s" font-size="21.5">Cross Section [pb]</text>
<text transform="translate(21.1 583.7) rotate(-90) scale(1 1.02)" class="s" font-size="21.5">Cross Section [pb]</text>
<text transform="translate(421.9 583.7) rotate(-90) scale(1 1.02)" class="s" font-size="21.5">Cross Section [pb]</text>
<text transform="translate(110 312.8) scale(1 1.06)" class="s" font-size="21">M(g</text>
<path transform="translate(148.71 322.8) scale(0.007568 0.007568)" d="M763 0H583V-1147Q518 -1085 412.5 -1023Q307 -961 223 -930V-1104Q374 -1175 487 -1276Q600 -1377 647 -1472H763Z" fill="#000"/>
<text transform="translate(157.3 312.8) scale(1 1.06)" class="s" font-size="21">)</text>
<path d="M171.4 307.8H181.4" stroke="#000" stroke-width="1.5" fill="none"/>
<text transform="translate(188.6 312.8) scale(1 1.06)" class="s" font-size="21">M(q</text>
<path transform="translate(218.61 322.8) scale(0.007568 0.007568)" d="M763 0H583V-1147Q518 -1085 412.5 -1023Q307 -961 223 -930V-1104Q374 -1175 487 -1276Q600 -1377 647 -1472H763Z" fill="#000"/>
<text transform="translate(235.6 312.8) scale(1 1.06)" class="s" font-size="21">)</text>
<text transform="translate(255 312.8) scale(1 1.06)" class="s" font-size="21">[GeV]</text>
<text transform="translate(516.5 315.7) scale(1 1.06)" class="s" font-size="21">M(q</text>
<path transform="translate(554.61 325.6) scale(0.007568 0.007568)" d="M763 0H583V-1147Q518 -1085 412.5 -1023Q307 -961 223 -930V-1104Q374 -1175 487 -1276Q600 -1377 647 -1472H763Z" fill="#000"/>
<text transform="translate(563 315.7) scale(1 1.06)" class="s" font-size="21">)</text>
<path d="M578.1 310.7H587.9" stroke="#000" stroke-width="1.5" fill="none"/>
<text transform="translate(594.6 315.7) scale(1 1.06)" class="s" font-size="21">M(</text>
<g transform="translate(624.8 316.7)" stroke="#000" fill="none"><path d="M-5.3 -5.3C-5.2 -6.9 -4.1 -7.6 -3.2 -7C-2.3 -6.2 -1.1 -2.8 0 0" stroke-width="1.7" stroke-linecap="round"/><path d="M4.8 -7.4L0 0.2L-0.9 4" stroke-width="1.3"/><ellipse cx="-0.7" cy="5.3" rx="1.2" ry="3.1" fill="#000" stroke="none"/></g>
<path transform="translate(619.61 326.2) scale(0.007568 0.007568)" d="M763 0H583V-1147Q518 -1085 412.5 -1023Q307 -961 223 -930V-1104Q374 -1175 487 -1276Q600 -1377 647 -1472H763Z" fill="#000"/>
<text transform="translate(636.4 315.7) scale(1 1.06)" class="s" font-size="21">)</text>
<text transform="translate(655.3 315.7) scale(1 1.06)" class="s" font-size="21">[GeV]</text>
<text transform="translate(92.9 679.6) scale(1 1.06)" class="s" font-size="21">[M(W</text>
<path transform="translate(141.11 689.5) scale(0.007568 0.007568)" d="M763 0H583V-1147Q518 -1085 412.5 -1023Q307 -961 223 -930V-1104Q374 -1175 487 -1276Q600 -1377 647 -1472H763Z" fill="#000"/>
<text transform="translate(154.3 679.6) scale(1 1.06)" class="s" font-size="21">)</text>
<path d="M168.9 673.9H178.6" stroke="#000" stroke-width="1.5" fill="none"/>
<text transform="translate(185.6 679.6) scale(1 1.06)" class="s" font-size="21">M(</text>
<g transform="translate(217.1 680.6)" stroke="#000" fill="none"><path d="M-5.3 -5.3C-5.2 -6.9 -4.1 -7.6 -3.2 -7C-2.3 -6.2 -1.1 -2.8 0 0" stroke-width="1.7" stroke-linecap="round"/><path d="M4.8 -7.4L0 0.2L-0.9 4" stroke-width="1.3"/><ellipse cx="-0.7" cy="5.3" rx="1.2" ry="3.1" fill="#000" stroke="none"/></g>
<path transform="translate(210.91 690) scale(0.007568 0.007568)" d="M763 0H583V-1147Q518 -1085 412.5 -1023Q307 -961 223 -930V-1104Q374 -1175 487 -1276Q600 -1377 647 -1472H763Z" fill="#000"/>
<text transform="translate(227.2 679.6) scale(1 1.06)" class="s" font-size="21">)]/2</text>
<text transform="translate(269.4 679.6) scale(1 1.06)" class="s" font-size="21">[GeV]</text>
<text transform="translate(520 680.5) scale(1 1.06)" class="s" font-size="21">M(</text>
<text transform="translate(545.6 680.5) scale(1.15 1.03)" class="g" font-size="22" font-style="italic">l</text>
<path transform="translate(556.61 690.3) scale(0.007568 0.007568)" d="M763 0H583V-1147Q518 -1085 412.5 -1023Q307 -961 223 -930V-1104Q374 -1175 487 -1276Q600 -1377 647 -1472H763Z" fill="#000"/>
<text transform="translate(562.2 680.5) scale(1 1.06)" class="s" font-size="21">)</text>
<path d="M575.9 676H586.4" stroke="#000" stroke-width="1.5" fill="none"/>
<text transform="translate(592.7 680.5) scale(1 1.06)" class="s" font-size="21">M(</text>
<g transform="translate(623.1 681.5)" stroke="#000" fill="none"><path d="M-5.3 -5.3C-5.2 -6.9 -4.1 -7.6 -3.2 -7C-2.3 -6.2 -1.1 -2.8 0 0" stroke-width="1.7" stroke-linecap="round"/><path d="M4.8 -7.4L0 0.2L-0.9 4" stroke-width="1.3"/><ellipse cx="-0.7" cy="5.3" rx="1.2" ry="3.1" fill="#000" stroke="none"/></g>
<path transform="translate(621.51 690) scale(0.007568 0.007568)" d="M763 0H583V-1147Q518 -1085 412.5 -1023Q307 -961 223 -930V-1104Q374 -1175 487 -1276Q600 -1377 647 -1472H763Z" fill="#000"/>
<text transform="translate(634.5 680.5) scale(1 1.06)" class="s" font-size="21">)</text>
<text transform="translate(653.2 680.5) scale(1 1.06)" class="s" font-size="21">[GeV]</text>
</svg></body></html>
